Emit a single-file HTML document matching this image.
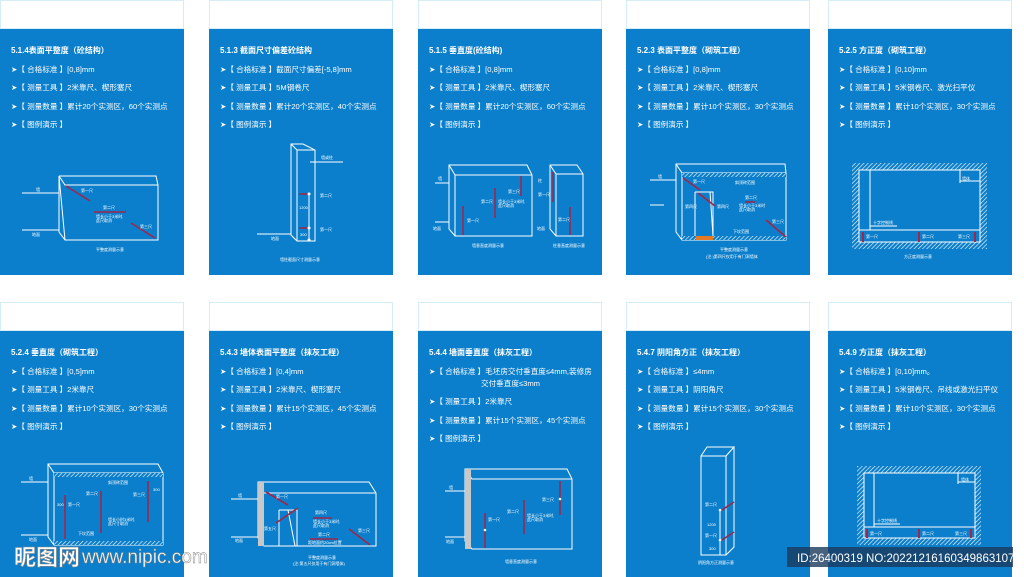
<!DOCTYPE html>
<html><head><meta charset="utf-8"><style>
html,body{margin:0;padding:0;background:#fff;}
svg{display:block}
text{font-family:"Liberation Sans","Noto Sans CJK SC",sans-serif;fill:#fff}
.t{font-size:8px;font-weight:bold}
.b{font-size:7.6px}
.s{font-size:4px}
.w{stroke:#fff;fill:none;stroke-width:1}
.r{stroke:#a0264a;stroke-width:1.6;fill:none}
</style></head><body>
<svg width="1024" height="577" viewBox="0 0 1024 577" xmlns="http://www.w3.org/2000/svg">
<defs>
<pattern id="h" width="3" height="3" patternUnits="userSpaceOnUse" patternTransform="rotate(45)"><rect width="3" height="3" fill="#0b7fcb"/><line x1="0" y1="0" x2="0" y2="3" stroke="#fff" stroke-width="1.2"/></pattern>
</defs>
<rect width="1024" height="577" fill="#fff"/>
<g fill="#fff" stroke="#d6ecf6" stroke-width="1">
<rect x="0.5" y="0.5" width="183" height="28"/><rect x="209.5" y="0.5" width="183" height="28"/><rect x="418.5" y="0.5" width="183" height="28"/><rect x="626.5" y="0.5" width="183" height="28"/><rect x="828.5" y="0.5" width="183" height="28"/>
<rect x="0.5" y="302.5" width="183" height="28"/><rect x="209.5" y="302.5" width="183" height="28"/><rect x="418.5" y="302.5" width="183" height="28"/><rect x="626.5" y="302.5" width="183" height="28"/><rect x="828.5" y="302.5" width="183" height="28"/>
</g>
<g fill="#0b7fcb">
<rect x="0" y="29" width="184" height="246"/><rect x="209" y="29" width="184" height="246"/><rect x="418" y="29" width="184" height="246"/><rect x="626" y="29" width="184" height="246"/><rect x="828" y="29" width="184" height="246"/>
<rect x="0" y="331" width="184" height="246"/><rect x="209" y="331" width="184" height="246"/><rect x="418" y="331" width="184" height="246"/><rect x="626" y="331" width="184" height="246"/><rect x="828" y="331" width="184" height="246"/>
</g>

<g>
<text class="t" x="11" y="53">5.1.4表面平整度（砼结构）</text>
<text class="b" x="11" y="72">➤【 合格标准 】[0,8]mm</text>
<text class="b" x="11" y="90">➤【 测量工具 】2米靠尺、楔形塞尺</text>
<text class="b" x="11" y="109">➤【 测量数量 】累计20个实测区，60个实测点</text>
<text class="b" x="11" y="127">➤【 图例演示 】</text>

<text class="t" x="220" y="53">5.1.3 截面尺寸偏差砼结构</text>
<text class="b" x="220" y="72">➤【 合格标准 】截面尺寸偏差[-5,8]mm</text>
<text class="b" x="220" y="90">➤【 测量工具 】5M钢卷尺</text>
<text class="b" x="220" y="109">➤【 测量数量 】累计20个实测区，40个实测点</text>
<text class="b" x="220" y="127">➤【 图例演示 】</text>

<text class="t" x="429" y="53">5.1.5 垂直度(砼结构)</text>
<text class="b" x="429" y="72">➤【 合格标准 】[0,8]mm</text>
<text class="b" x="429" y="90">➤【 测量工具 】2米靠尺、楔形塞尺</text>
<text class="b" x="429" y="109">➤【 测量数量 】累计20个实测区，60个实测点</text>
<text class="b" x="429" y="127">➤【 图例演示 】</text>

<text class="t" x="637" y="53">5.2.3 表面平整度（砌筑工程）</text>
<text class="b" x="637" y="72">➤【 合格标准 】[0,8]mm</text>
<text class="b" x="637" y="90">➤【 测量工具 】2米靠尺、楔形塞尺</text>
<text class="b" x="637" y="109">➤【 测量数量 】累计10个实测区，30个实测点</text>
<text class="b" x="637" y="127">➤【 图例演示 】</text>

<text class="t" x="839" y="53">5.2.5 方正度（砌筑工程）</text>
<text class="b" x="839" y="72">➤【 合格标准 】[0,10]mm</text>
<text class="b" x="839" y="90">➤【 测量工具 】5米钢卷尺、激光扫平仪</text>
<text class="b" x="839" y="109">➤【 测量数量 】累计10个实测区，30个实测点</text>
<text class="b" x="839" y="127">➤【 图例演示 】</text>
</g>

<g>
<text class="t" x="11" y="355">5.2.4 垂直度（砌筑工程）</text>
<text class="b" x="11" y="374">➤【 合格标准 】[0,5]mm</text>
<text class="b" x="11" y="392">➤【 测量工具 】2米靠尺</text>
<text class="b" x="11" y="411">➤【 测量数量 】累计10个实测区，30个实测点</text>
<text class="b" x="11" y="429">➤【 图例演示 】</text>

<text class="t" x="220" y="355">5.4.3 墙体表面平整度（抹灰工程）</text>
<text class="b" x="220" y="374">➤【 合格标准 】[0,4]mm</text>
<text class="b" x="220" y="392">➤【 测量工具 】2米靠尺、楔形塞尺</text>
<text class="b" x="220" y="411">➤【 测量数量 】累计15个实测区，45个实测点</text>
<text class="b" x="220" y="429">➤【 图例演示 】</text>

<text class="t" x="429" y="355">5.4.4 墙面垂直度（抹灰工程）</text>
<text class="b" x="429" y="374">➤【 合格标准 】毛坯房交付垂直度≤4mm,装修房</text>
<text class="b" x="481" y="386">交付垂直度≤3mm</text>
<text class="b" x="429" y="404">➤【 测量工具 】2米靠尺</text>
<text class="b" x="429" y="423">➤【 测量数量 】累计15个实测区，45个实测点</text>
<text class="b" x="429" y="441">➤【 图例演示 】</text>

<text class="t" x="637" y="355">5.4.7 阴阳角方正（抹灰工程）</text>
<text class="b" x="637" y="374">➤【 合格标准 】≤4mm</text>
<text class="b" x="637" y="392">➤【 测量工具 】阴阳角尺</text>
<text class="b" x="637" y="411">➤【 测量数量 】累计15个实测区，30个实测点</text>
<text class="b" x="637" y="429">➤【 图例演示 】</text>

<text class="t" x="839" y="355">5.4.9 方正度（抹灰工程）</text>
<text class="b" x="839" y="374">➤【 合格标准 】[0,10]mm。</text>
<text class="b" x="839" y="392">➤【 测量工具 】5米钢卷尺、吊线或激光扫平仪</text>
<text class="b" x="839" y="411">➤【 测量数量 】累计10个实测区，30个实测点</text>
<text class="b" x="839" y="429">➤【 图例演示 】</text>
</g>

<g>
<path class="w" d="M59 176 L156 176 L158 185 M59 176 L65 185 L158 185 L158 240 L65 240 Z M59 176 L59 232 L65 240"/>
<line class="w" x1="22" y1="193" x2="59" y2="193"/><line class="w" x1="22" y1="230" x2="59" y2="230"/>
<text class="s" x="36" y="191">墙</text><text class="s" x="32" y="236">地面</text>
<line class="r" x1="66" y1="186" x2="90" y2="201"/><line class="r" x1="94" y1="212" x2="126" y2="212"/><line class="r" x1="131" y1="223" x2="155" y2="238"/>
<text class="s" x="81" y="192">第一尺</text><text class="s" x="103" y="209">第二尺</text><text class="s" x="96" y="218">墙长小于3米时,</text><text class="s" x="96" y="222">此尺取消</text><text class="s" x="140" y="228">第三尺</text>
<text class="s" x="96" y="251">平整度测量示意</text>
</g>
<g>
<path class="w" d="M291 144 L303 144 L315 150 L315 241 L297 241 L291 235 Z M291 144 L297 150 L315 150 M297 150 L297 241"/>
<line class="w" x1="310" y1="162" x2="343" y2="162"/><text class="s" x="321" y="159">墙或柱</text>
<line class="w" x1="257" y1="234" x2="291" y2="234"/><text class="s" x="271" y="240">地面</text>
<line class="w" x1="309" y1="194" x2="309" y2="241"/>
<line class="r" x1="299" y1="194" x2="308" y2="194"/><line class="r" x1="299" y1="228" x2="308" y2="228"/>
<circle cx="309" cy="194" r="1.5" fill="#fff"/><circle cx="309" cy="228" r="1.5" fill="#fff"/><circle cx="309" cy="240" r="1.5" fill="#fff"/>
<text class="s" x="320" y="197">第二尺</text><text class="s" x="320" y="231">第一尺</text><text class="s" x="299" y="209">1200</text><text class="s" x="300" y="236">300</text>
<text class="s" x="280" y="261">墙柱截面尺寸测量示意</text>
</g>
<g>
<path class="w" d="M449 165 L527 165 L532 175 L532 236 L455 236 L449 229 Z M449 165 L455 175 L532 175 M455 175 L455 236"/>
<line class="w" x1="435" y1="183" x2="449" y2="183"/><line class="w" x1="435" y1="222" x2="449" y2="222"/>
<text class="s" x="438" y="180">墙</text><text class="s" x="433" y="230">地面</text>
<line class="r" x1="463" y1="206" x2="463" y2="235"/><line class="r" x1="495" y1="188" x2="495" y2="218"/><line class="r" x1="521" y1="176" x2="521" y2="196"/>
<text class="s" x="467" y="222">第一尺</text><text class="s" x="481" y="203">第二尺</text><text class="s" x="498" y="203">墙长小于3米时,</text><text class="s" x="498" y="207">此尺取消</text><text class="s" x="508" y="193">第三尺</text>
<text class="s" x="472" y="247">墙垂直度测量示意</text>
<path class="w" d="M550 165 L577 165 L583 174 L583 236 L556 236 L550 229 Z M550 165 L556 174 L583 174 M556 174 L556 236"/>
<line class="r" x1="553" y1="172" x2="553" y2="202"/><line class="r" x1="570" y1="207" x2="570" y2="235"/>
<text class="s" x="538" y="182">柱</text><text class="s" x="538" y="196">第一尺</text><text class="s" x="558" y="221">第二尺</text>
<text class="s" x="537" y="230">地面</text><text class="s" x="553" y="247">柱垂直度测量示意</text>
</g>
<g>
<path class="w" d="M676 164 L785 164 L786 173 L786 240 L682 240 L676 232 Z M676 164 L682 173 L786 173 M682 173 L682 240"/>
<rect x="682" y="173" width="104" height="4" fill="url(#h)"/><rect x="682" y="236" width="104" height="4" fill="url(#h)"/>
<rect x="696" y="236" width="17" height="4" fill="#e47a24"/>
<path class="w" d="M695 192 L713 192 L713 236 M695 192 L695 236 M710 192 L713 236"/>
<line class="w" x1="650" y1="180" x2="676" y2="180"/><line class="w" x1="650" y1="205" x2="664" y2="205"/>
<text class="s" x="658" y="178">墙</text>
<line class="r" x1="683" y1="178" x2="700" y2="190"/><line class="r" x1="698" y1="193" x2="715" y2="206"/><line class="r" x1="745" y1="202" x2="755" y2="202"/><line class="r" x1="766" y1="220" x2="786" y2="237"/>
<text class="s" x="693" y="183">第一尺</text><text class="s" x="735" y="184">斜顶砖范围</text><text class="s" x="685" y="208">第四尺</text><text class="s" x="717" y="208">第四尺</text>
<text class="s" x="745" y="199">第二尺</text><text class="s" x="739" y="207">墙长小于3米时</text><text class="s" x="739" y="211">此尺取消</text><text class="s" x="772" y="223">第三尺</text><text class="s" x="733" y="233">下坎范围</text>
<text class="s" x="720" y="251">平整度测量示意</text><text class="s" x="706" y="258">(注:)第四尺仅用于有门洞墙体</text>
</g>
<g>
<rect x="852" y="163" width="135" height="86" fill="url(#h)"/>
<rect x="859" y="170" width="121" height="72" fill="#0b7fcb" stroke="#fff"/>
<line class="w" x1="870" y1="170" x2="870" y2="230"/><line class="w" x1="859" y1="230" x2="980" y2="230"/><line class="w" x1="960" y1="181" x2="980" y2="181"/><line class="w" x1="960" y1="170" x2="960" y2="183"/>
<line class="w" x1="870" y1="226" x2="897" y2="226"/>
<rect x="862" y="232" width="2" height="10" fill="#a0264a"/><rect x="918" y="232" width="2" height="10" fill="#a0264a"/><rect x="974" y="232" width="2" height="10" fill="#a0264a"/>
<text class="s" x="873" y="224">十字控制线</text><text class="s" x="866" y="238">第一尺</text><text class="s" x="922" y="238">第二尺</text><text class="s" x="958" y="238">第三尺</text><text class="s" x="962" y="180">墙体</text>
<text class="s" x="904" y="258">方正度测量示意</text>
</g>

<g>
<path class="w" d="M48 464 L158 464 L163 473 L163 545 L54 545 L48 537 Z M48 464 L54 473 L163 473 M54 473 L54 545"/>
<rect x="54" y="473" width="109" height="4" fill="url(#h)"/><rect x="54" y="541" width="109" height="4" fill="url(#h)"/>
<line class="w" x1="21" y1="482" x2="48" y2="482"/><line class="w" x1="21" y1="535" x2="48" y2="535"/>
<text class="s" x="29" y="480">墙</text><text class="s" x="29" y="541">地面</text>
<line class="r" x1="65" y1="495" x2="65" y2="539"/><line class="r" x1="101" y1="491" x2="101" y2="533"/><line class="r" x1="148" y1="481" x2="148" y2="522"/>
<text class="s" x="57" y="506">300</text><text class="s" x="68" y="506">第一尺</text><text class="s" x="86" y="495">第二尺</text><text class="s" x="108" y="521">墙长小时3米时,</text><text class="s" x="108" y="525">此尺寸取消</text><text class="s" x="133" y="496">第三尺</text><text class="s" x="153" y="491">300</text><text class="s" x="108" y="484">斜顶砖范围</text><text class="s" x="78" y="535">下坎范围</text>
</g>
<g>
<path class="w" d="M258 482 L369 482 L376 493 L376 546 L264 546 L258 538 Z M258 482 L264 493 L376 493"/>
<rect x="258" y="482" width="6" height="64" fill="#c8c8c8"/>
<path class="w" d="M279 510 L297 510 L297 546 M279 510 L279 546 M288 510 L295 546"/>
<line class="w" x1="231" y1="499" x2="258" y2="499"/><line class="w" x1="231" y1="537" x2="258" y2="537"/>
<text class="s" x="238" y="497">墙</text><text class="s" x="235" y="542">地面</text>
<line class="r" x1="266" y1="492" x2="288" y2="505"/><line class="r" x1="276" y1="523" x2="298" y2="508"/><line class="r" x1="313" y1="518" x2="332" y2="518"/><line class="r" x1="349" y1="529" x2="370" y2="545"/><line class="r" x1="310" y1="539" x2="338" y2="539"/>
<text class="s" x="276" y="498">第一尺</text><text class="s" x="315" y="514">第四尺</text><text class="s" x="313" y="523">墙长小于3米时,</text><text class="s" x="313" y="527">此尺取消</text><text class="s" x="264" y="530">第五尺</text><text class="s" x="358" y="532">第三尺</text><text class="s" x="318" y="536">第二尺</text><text class="s" x="308" y="544">距地面约20cm位置</text>
<text class="s" x="308" y="559">平整度测量示意</text><text class="s" x="293" y="565">(注:第五尺仅用于有门洞墙体)</text>
</g>
<g>
<path class="w" d="M465 469 L567 469 L572 479 L572 549 L472 549 L465 541 Z M465 469 L472 479 L572 479"/>
<rect x="465" y="469" width="6" height="80" fill="#c8c8c8"/>
<line class="w" x1="445" y1="491" x2="465" y2="491"/><line class="w" x1="445" y1="537" x2="465" y2="537"/>
<text class="s" x="449" y="489">墙</text><text class="s" x="446" y="543">地面</text>
<line class="r" x1="485" y1="513" x2="485" y2="548"/><line class="r" x1="524" y1="500" x2="524" y2="534"/><line class="r" x1="560" y1="481" x2="560" y2="515"/>
<circle cx="485" cy="530" r="1.3" fill="#fff"/><circle cx="560" cy="499" r="1.3" fill="#fff"/>
<text class="s" x="488" y="521">第一尺</text><text class="s" x="507" y="513">第二尺</text><text class="s" x="527" y="517">墙长小于3米时,</text><text class="s" x="527" y="521">此尺取消</text><text class="s" x="542" y="501">第三尺</text>
<text class="s" x="505" y="563">墙垂直度测量示意</text>
</g>
<g>
<path class="w" d="M701 456 L726 456 L726 555 L702 555 L701 555 Z M701 456 L707 447 L734 447 L726 456 M734 447 L734 547 L726 555 M701 456 L701 555"/>
<line class="w" x1="720" y1="510" x2="720" y2="555"/>
<line class="r" x1="722" y1="510" x2="734" y2="502"/><line class="r" x1="722" y1="540" x2="734" y2="532"/>
<circle cx="720" cy="510" r="1.3" fill="#fff"/><circle cx="720" cy="540" r="1.3" fill="#fff"/>
<text class="s" x="705" y="506">第二尺</text><text class="s" x="707" y="526">1200</text><text class="s" x="705" y="537">第一尺</text><text class="s" x="709" y="550">300</text>
<text class="s" x="698" y="564">阴阳角方正测量示意</text>
</g>
<g>
<rect x="857" y="466" width="124" height="79" fill="url(#h)"/>
<rect x="864" y="473" width="111" height="65" fill="#0b7fcb" stroke="#fff"/>
<line class="w" x1="874" y1="473" x2="874" y2="527"/><line class="w" x1="864" y1="527" x2="975" y2="527"/><line class="w" x1="958" y1="482" x2="975" y2="482"/><line class="w" x1="958" y1="473" x2="958" y2="484"/>
<line class="w" x1="874" y1="524" x2="900" y2="524"/>
<rect x="866" y="529" width="2" height="9" fill="#a0264a"/><rect x="918" y="529" width="2" height="9" fill="#a0264a"/><rect x="970" y="529" width="2" height="9" fill="#a0264a"/>
<text class="s" x="877" y="522">十字控制线</text><text class="s" x="870" y="535">第一尺</text><text class="s" x="922" y="535">第二尺</text><text class="s" x="955" y="535">第三尺</text><text class="s" x="961" y="481">墙体</text>
</g>

<text x="14" y="565" style="font-size:22px;font-weight:bold;fill:#fff;stroke:#888;stroke-width:0.6">昵图网</text>
<text x="82" y="563" style="font-size:19px;fill:#fff;stroke:#888;stroke-width:0.5">www.nipic.com</text>
<rect x="787" y="547" width="226" height="20" fill="#1a3b5c" opacity="0.8"/>
<text x="797" y="562" style="font-size:11.5px;fill:#fff">ID:26400319 NO:20221216160349863107</text>
</svg>
</body></html>
